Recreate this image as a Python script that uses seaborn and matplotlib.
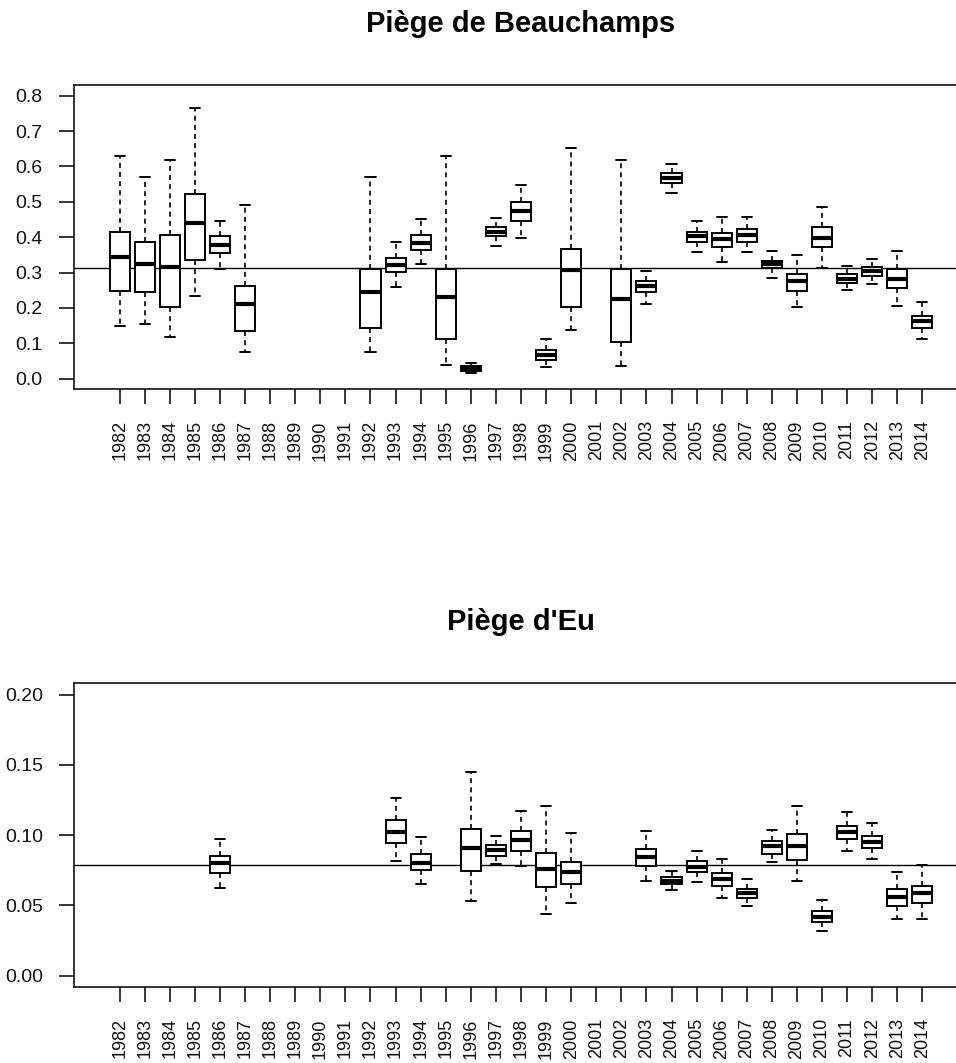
import numpy as np
import pandas as pd
import matplotlib
matplotlib.use("Agg")
import matplotlib.pyplot as plt
import seaborn as sns

nan = np.nan
years = list(range(1982, 2015))

# Piège de Beauchamps: whisker low, Q1, median, Q3, whisker high
bea_low = [0.150, 0.154, 0.119, 0.234, 0.310, 0.075, nan, nan, nan, nan,
           0.075, 0.259, 0.324, 0.038, 0.016, 0.376, 0.398, 0.034, 0.139, nan,
           0.035, 0.211, 0.525, 0.357, 0.330, 0.357, 0.285, 0.202, 0.314, 0.252,
           0.267, 0.206, 0.113]
bea_q1 = [0.249, 0.245, 0.202, 0.335, 0.354, 0.136, nan, nan, nan, nan,
          0.143, 0.301, 0.364, 0.113, 0.022, 0.402, 0.447, 0.054, 0.202, nan,
          0.105, 0.246, 0.552, 0.386, 0.372, 0.386, 0.314, 0.248, 0.372, 0.271,
          0.289, 0.255, 0.143]
bea_med = [0.343, 0.324, 0.316, 0.440, 0.377, 0.211, nan, nan, nan, nan,
           0.245, 0.320, 0.383, 0.230, 0.029, 0.414, 0.475, 0.067, 0.306, nan,
           0.226, 0.261, 0.567, 0.403, 0.395, 0.407, 0.325, 0.276, 0.399, 0.282,
           0.305, 0.282, 0.163]
bea_q3 = [0.416, 0.387, 0.406, 0.522, 0.402, 0.263, nan, nan, nan, nan,
          0.311, 0.342, 0.406, 0.311, 0.036, 0.429, 0.500, 0.080, 0.368, nan,
          0.311, 0.277, 0.581, 0.416, 0.413, 0.424, 0.334, 0.297, 0.429, 0.297,
          0.315, 0.310, 0.177]
bea_high = [0.628, 0.571, 0.617, 0.765, 0.447, 0.491, nan, nan, nan, nan,
            0.571, 0.387, 0.451, 0.630, 0.045, 0.455, 0.548, 0.113, 0.653, nan,
            0.617, 0.305, 0.608, 0.446, 0.458, 0.458, 0.361, 0.350, 0.485, 0.319,
            0.338, 0.361, 0.218]
bea_ref = 0.312

# Piège d'Eu
eu_low = [nan, nan, nan, nan, 0.0626, nan, nan, nan, nan, nan,
          nan, 0.0814, 0.0656, nan, 0.0534, 0.0793, 0.0781, 0.0440, 0.0515, nan,
          nan, 0.0675, 0.0610, 0.0666, 0.0553, 0.0497, 0.0808, 0.0675, 0.0318, 0.0889,
          0.0833, 0.0402, 0.0402]
eu_q1 = [nan, nan, nan, nan, 0.0734, nan, nan, nan, nan, nan,
         nan, 0.0946, 0.0751, nan, 0.0748, 0.0850, 0.0889, 0.0628, 0.0656, nan,
         nan, 0.0779, 0.0654, 0.0739, 0.0638, 0.0551, 0.0868, 0.0822, 0.0384, 0.0974,
         0.0908, 0.0497, 0.0515]
eu_med = [nan, nan, nan, nan, 0.0800, nan, nan, nan, nan, nan,
          nan, 0.1021, 0.0803, nan, 0.0911, 0.0892, 0.0967, 0.0758, 0.0741, nan,
          nan, 0.0845, 0.0675, 0.0776, 0.0685, 0.0586, 0.0923, 0.0923, 0.0421, 0.1024,
          0.0953, 0.0563, 0.0586]
eu_q3 = [nan, nan, nan, nan, 0.0854, nan, nan, nan, nan, nan,
         nan, 0.1106, 0.0864, nan, 0.1043, 0.0930, 0.1031, 0.0871, 0.0812, nan,
         nan, 0.0899, 0.0704, 0.0814, 0.0732, 0.0619, 0.0958, 0.1005, 0.0461, 0.1068,
         0.0993, 0.0617, 0.0635]
eu_high = [nan, nan, nan, nan, 0.0972, nan, nan, nan, nan, nan,
           nan, 0.1266, 0.0986, nan, 0.1447, 0.0995, 0.1172, 0.1207, 0.1012, nan,
           nan, 0.1031, 0.0748, 0.0889, 0.0833, 0.0685, 0.1040, 0.1207, 0.0541, 0.1163,
           0.1087, 0.0739, 0.0786]
eu_ref = 0.079

titles = ["Piège de Beauchamps", "Piège d'Eu"]
yticks_top = [0.0, 0.1, 0.2, 0.3, 0.4, 0.5, 0.6, 0.7, 0.8]
yticks_bot = [0.00, 0.05, 0.10, 0.15, 0.20]


def long_frame(low, q1, med, q3, high):
    rows = []
    for i, y in enumerate(years):
        vals = [low[i], q1[i], med[i], q3[i], high[i]]
        if np.isnan(vals[2]):
            continue
        for v in vals:
            rows.append({"year": str(y), "value": v})
    return pd.DataFrame(rows)


sns.set_style("ticks")
plt.rcParams["font.family"] = ["Liberation Sans", "DejaVu Sans"]
plt.rcParams["text.color"] = "black"

W, H = 956, 1063
fig = plt.figure(figsize=(W / 100, H / 100), dpi=100)

order = [str(y) for y in years]
left = 74 / W
width = (968 - 74) / W

panels = [
    dict(df=long_frame(bea_low, bea_q1, bea_med, bea_q3, bea_high), ref=bea_ref,
         top=85, bot=389, ylim=(-0.029, 0.830), yticks=yticks_top, fmt="{:.1f}",
         title=titles[0], title_base=31.7),
    dict(df=long_frame(eu_low, eu_q1, eu_med, eu_q3, eu_high), ref=eu_ref,
         top=683.3, bot=987, ylim=(-0.008, 0.208), yticks=yticks_bot, fmt="{:.2f}",
         title=titles[1], title_base=630),
]

for p in panels:
    ax = fig.add_axes([left, 1 - p["bot"] / H, width, (p["bot"] - p["top"]) / H])
    ax.axhline(p["ref"], color="black", lw=1.0, zorder=1)
    sns.boxplot(data=p["df"], x="year", y="value", order=order, ax=ax,
                color="white", linecolor="black", linewidth=1.4, width=0.8,
                whis=(0, 100), showfliers=False, saturation=1,
                whiskerprops=dict(linestyle=(0, (3, 2.5)), linewidth=1.2),
                medianprops=dict(linewidth=3.0, solid_capstyle="butt"),
                zorder=3)
    ax.set_xlim(-1.82, 33.82)
    ax.set_ylim(*p["ylim"])
    ax.set_yticks(p["yticks"])
    ax.set_yticklabels([p["fmt"].format(v) for v in p["yticks"]], fontsize=14)
    ax.set_xticks(range(len(years)))
    ax.set_xticklabels(order, rotation=90, fontsize=13)
    ax.set_xlabel("")
    ax.set_ylabel("")
    ax.tick_params(axis="both", length=11, width=1.1, pad=11.5, color="black",
                   labelcolor="#111111")
    for s in ax.spines.values():
        s.set_linewidth(1.1)
        s.set_color("black")
    fig.text((74 + 968) / 2 / W, 1 - p["title_base"] / H, p["title"],
             ha="center", va="baseline", fontsize=21, fontweight="bold",
             color="black")

fig.savefig("out.png", dpi=100, facecolor="white")
